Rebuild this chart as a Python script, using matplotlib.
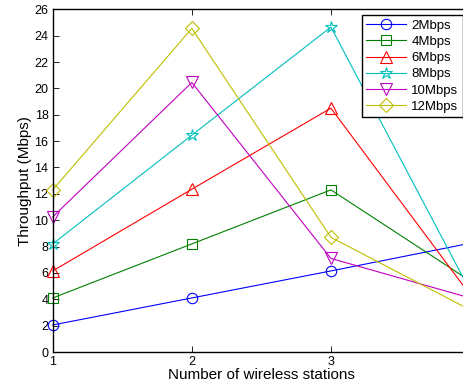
import matplotlib
matplotlib.use("Agg")
import matplotlib.pyplot as plt

plt.rcParams['font.family'] = ['Liberation Sans', 'DejaVu Sans']

stations = [1, 2, 3, 4]
xtick_labels = ['1', '2', '3', '']
labels = ['2Mbps', '4Mbps', '6Mbps', '8Mbps', '10Mbps', '12Mbps']
tput_2 = [2.05, 4.1, 6.15, 8.25]
tput_4 = [4.1, 8.2, 12.3, 5.4]
tput_6 = [6.15, 12.35, 18.5, 4.35]
tput_8 = [8.2, 16.45, 24.65, 4.65]
tput_10 = [10.25, 20.45, 7.1, 4.1]
tput_12 = [12.3, 24.55, 8.7, 3.2]

series = [tput_2, tput_4, tput_6, tput_8, tput_10, tput_12]
colors = [(0, 0, 1), (0, 0.5, 0), (1, 0, 0), (0, 0.75, 0.75), (0.75, 0, 0.75), (0.75, 0.75, 0)]
markers = ['o', 's', '^', '*', 'v', 'D']
msizes = [7.5, 6.5, 8.5, 9, 8.5, 7]

fig = plt.figure(figsize=(4.64, 3.89), dpi=100)
ax = fig.add_axes([0.1136, 0.0951, 0.8994, 0.881])

for y, c, m, ms, lab in zip(series, colors, markers, msizes, labels):
    ax.plot(stations, y, color=c, marker=m, markersize=ms, markerfacecolor='none',
            markeredgecolor=c, markeredgewidth=0.8, linewidth=0.8, label=lab, clip_on=False)

ax.set_xlim(1, 4)
ax.set_ylim(0, 26)
ax.set_xticks(stations)
ax.set_xticklabels(xtick_labels)
ax.set_yticks(range(0, 27, 2))
ax.tick_params(direction='in', top=True, right=True, labelsize=9, length=4, width=0.6, pad=3)
for s in ax.spines.values():
    s.set_linewidth(1.0)

ax.set_xlabel('Number of wireless stations', fontsize=11, labelpad=0)
ax.set_ylabel('Throughput (Mbps)', fontsize=11, labelpad=2)

leg = ax.legend(loc='upper right', bbox_to_anchor=(0.998, 0.9614), bbox_transform=fig.transFigure,
                borderaxespad=0, fancybox=False, framealpha=1, edgecolor='black', fontsize=9.5,
                handlelength=3.0, handletextpad=0.4, labelspacing=0.3, borderpad=0.35)
leg.get_frame().set_linewidth(1.0)

fig.savefig('out.png', dpi=100)
